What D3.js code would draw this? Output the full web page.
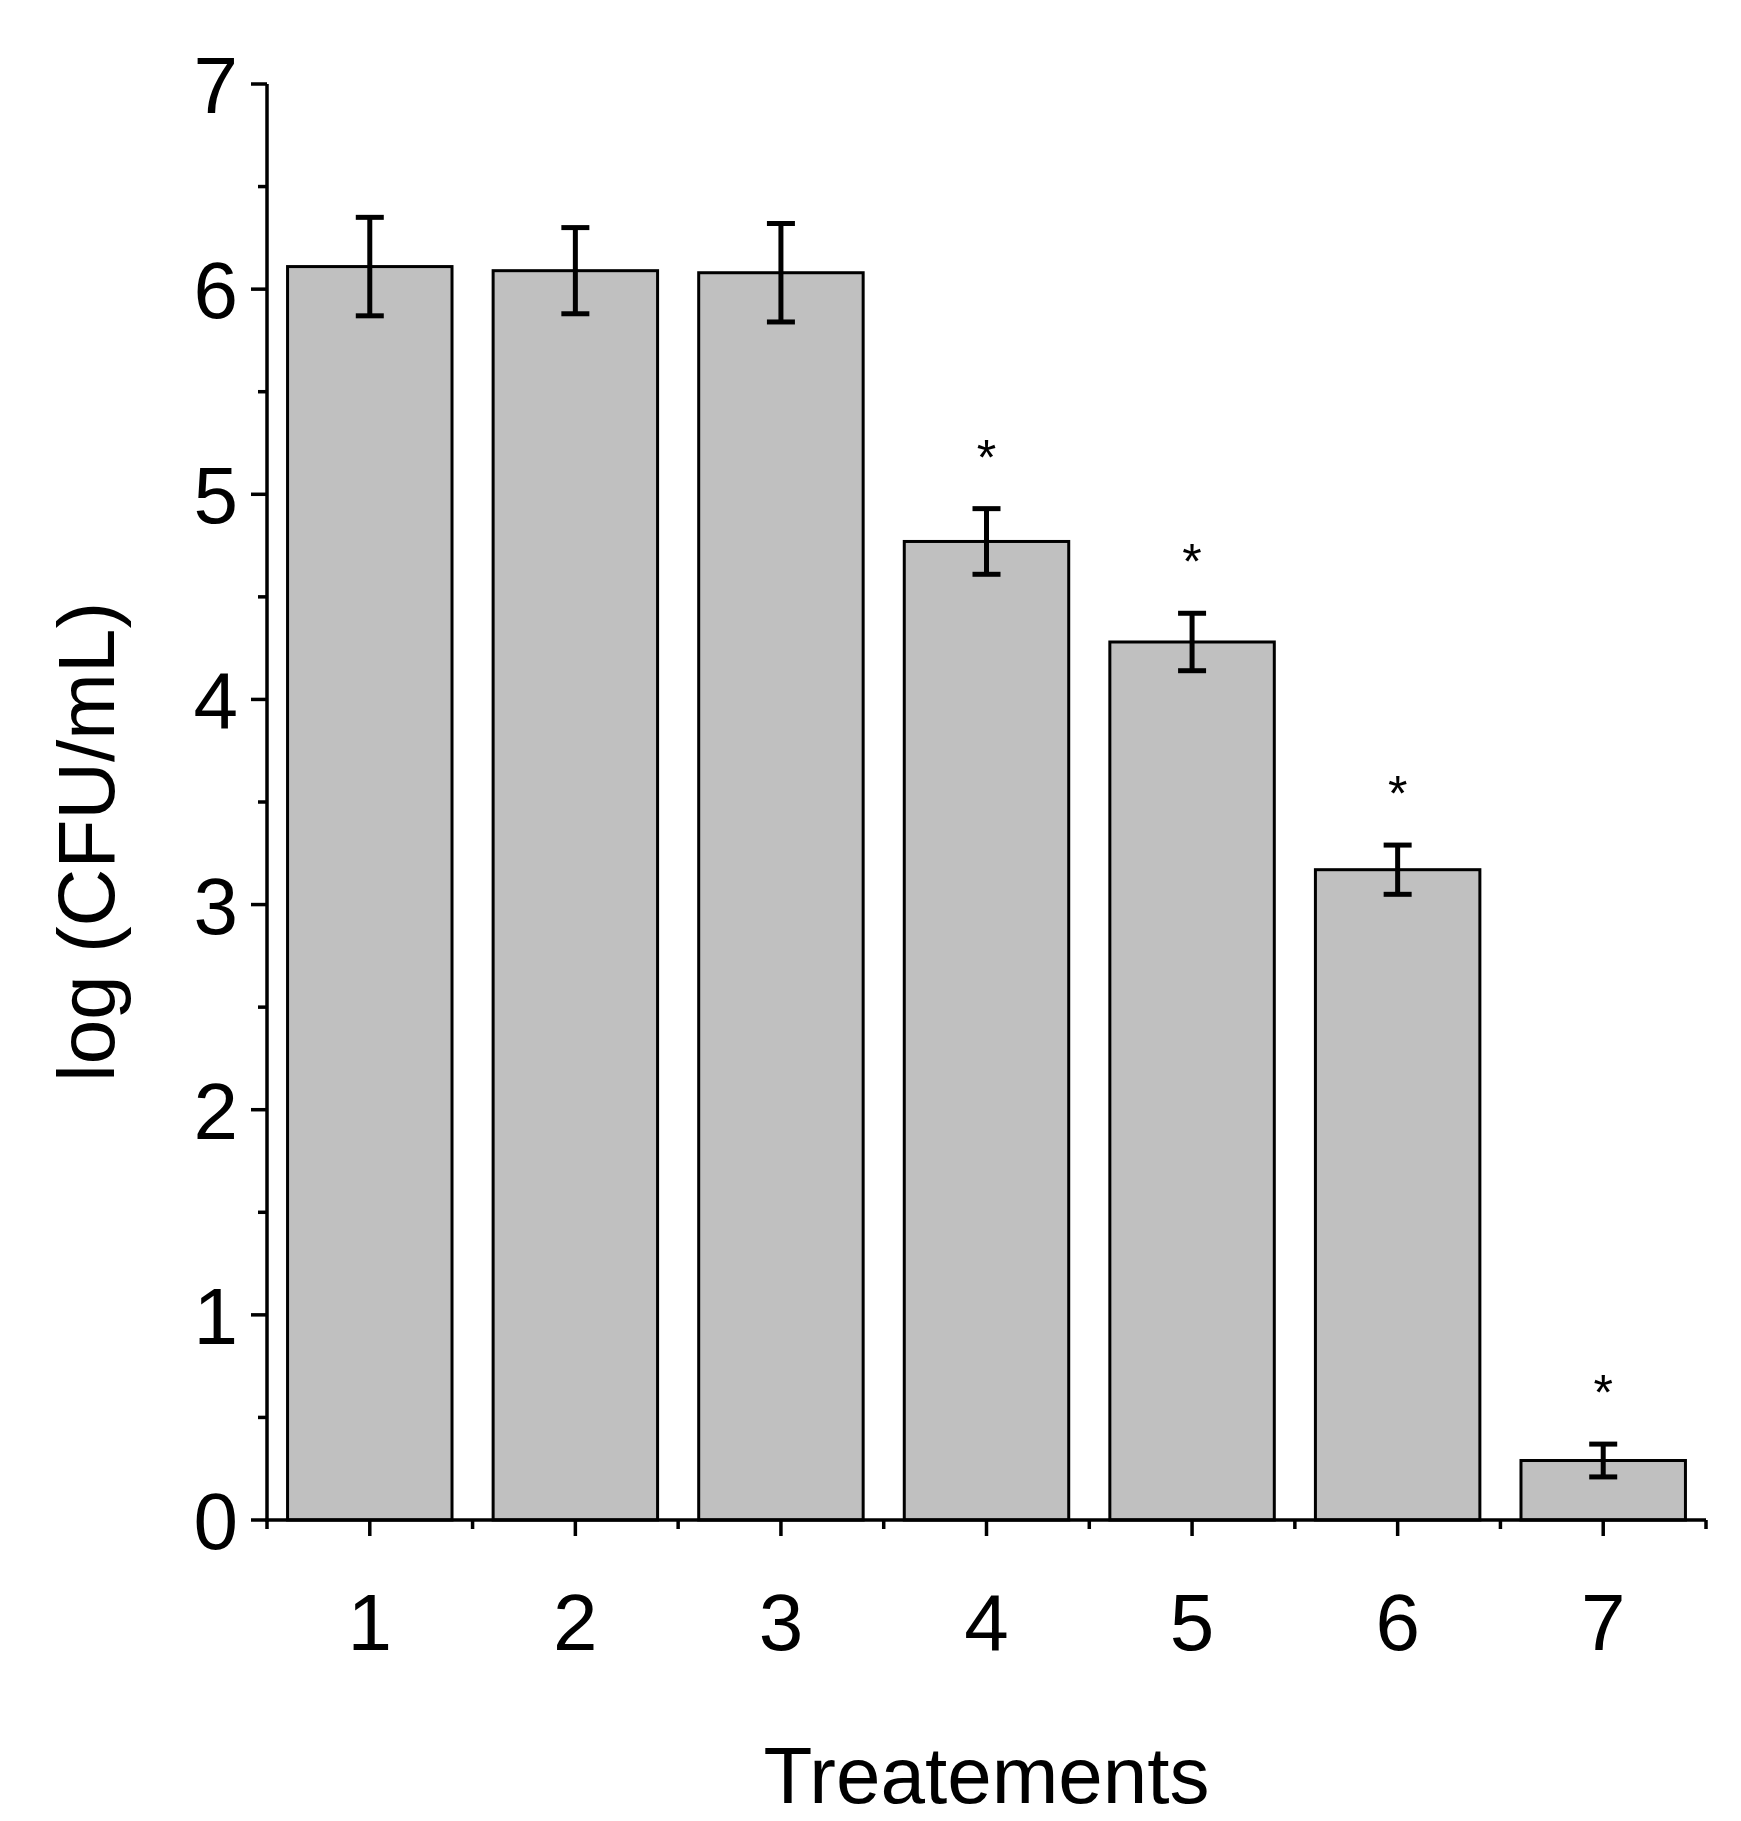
<!DOCTYPE html>
<html><head><meta charset="utf-8">
<script src="https://cdn.jsdelivr.net/npm/d3@7"></script>
<style>body{margin:0;background:#fff}text{font-family:"Liberation Sans",Arial,sans-serif;fill:#000}</style>
</head><body><svg id="c" width="1741" height="1821"></svg>
<script>
const categories = ["1","2","3","4","5","6","7"];
const values = [6.11, 6.09, 6.08, 4.77, 4.28, 3.17, 0.29];
const errors = [0.24, 0.21, 0.24, 0.16, 0.14, 0.12, 0.08];
const significant = [false, false, false, true, true, true, true];
const yTicks = [0,1,2,3,4,5,6,7];

const svg = d3.select("#c");
const L=267, R=1706, T=84, B=1520;
const x = d3.scaleBand().domain(categories).range([L,R]).paddingInner(0.2).paddingOuter(0.1);
const xb = d3.scaleBand().domain(categories).range([L,R]);
const y = d3.scaleLinear().domain([0,7]).range([B,T]);

// bars
svg.selectAll("rect.bar").data(values).join("rect")
  .attr("x",(d,i)=>xb(categories[i])+xb.bandwidth()*0.1).attr("width",xb.bandwidth()*0.8)
  .attr("y",d=>y(d)).attr("height",d=>B-y(d))
  .attr("fill","#c0c0c0").attr("stroke","#000").attr("stroke-width",3);

// error bars
const eb = svg.append("g").attr("stroke","#000").attr("stroke-width",5);
values.forEach((v,i)=>{
  const cx = xb(categories[i])+xb.bandwidth()/2, e=errors[i];
  eb.append("line").attr("x1",cx).attr("x2",cx).attr("y1",y(v+e)).attr("y2",y(v-e));
  [v+e,v-e].forEach(t=>eb.append("line").attr("x1",cx-14).attr("x2",cx+14).attr("y1",y(t)).attr("y2",y(t)));
  if(significant[i]) svg.append("text").attr("x",cx).attr("y",y(v+e)-34).attr("text-anchor","middle")
     .attr("font-size",50).text("*");
});

// axes
const ax = svg.append("g").attr("stroke","#000").attr("stroke-width",3.5);
ax.append("line").attr("x1",L).attr("x2",L).attr("y1",T).attr("y2",B+1.75);
ax.append("line").attr("x1",L-1.75).attr("x2",R).attr("y1",B).attr("y2",B);
// y ticks
d3.range(0,7.01,0.5).forEach(v=>{
  const maj = Number.isInteger(v);
  ax.append("line").attr("x1",L).attr("x2",L-(maj?16:9)).attr("y1",y(v)).attr("y2",y(v));
});
svg.selectAll("text.yt").data(yTicks).join("text").attr("x",238).attr("y",d=>y(d)+29)
  .attr("text-anchor","end").attr("font-size",80).text(d=>d);
// x ticks
categories.forEach(c=>{
  const cx = xb(c)+xb.bandwidth()/2;
  ax.append("line").attr("x1",cx).attr("x2",cx).attr("y1",B).attr("y2",B+16);
  ax.append("line").attr("x1",xb(c)+xb.bandwidth()).attr("x2",xb(c)+xb.bandwidth()).attr("y1",B).attr("y2",B+9);
});
ax.append("line").attr("x1",L).attr("x2",L).attr("y1",B).attr("y2",B+9);
svg.selectAll("text.xt").data(categories).join("text").attr("x",d=>xb(d)+xb.bandwidth()/2).attr("y",1650)
  .attr("text-anchor","middle").attr("font-size",80).text(d=>d);

svg.append("text").attr("x",(L+R)/2).attr("y",1803).attr("text-anchor","middle").attr("font-size",80).text("Treatements");
svg.append("text").attr("transform",`translate(114,${(T+B)/2+40}) rotate(-90)`).attr("text-anchor","middle")
  .attr("font-size",80).text("log (CFU/mL)");
</script></body></html>
